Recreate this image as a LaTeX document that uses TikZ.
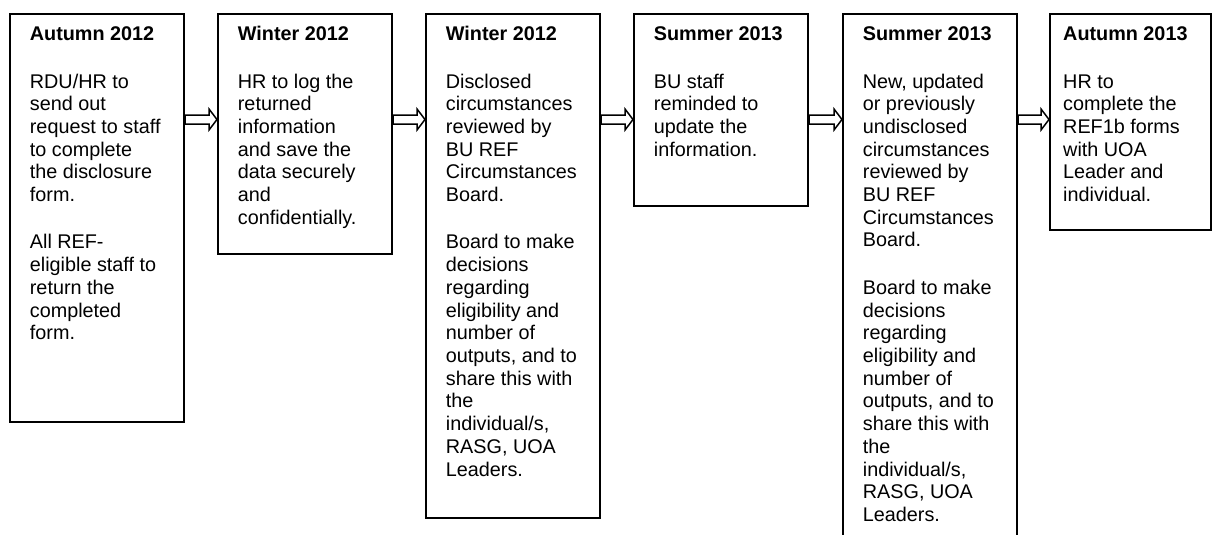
\documentclass[tikz,border=0pt]{standalone}
\usepackage{fontspec}
\setmainfont{Liberation Sans}
\usetikzlibrary{calc}
\tikzset{
  stagebox/.style={draw=black, line width=2pt, rectangle, inner sep=0pt},
  blockarrow/.style={draw=black, line width=1.5pt, fill=white, line join=miter},
  stagetext/.style={anchor=base west, inner sep=0pt}
}
\newcommand{\stagetxt}[1]{\parbox[t]{150pt}{\fontsize{19.8pt}{22.7pt}\selectfont\raggedright\setlength{\parskip}{24.7pt}#1}}
\newcommand{\flowarrow}[2]{%
  \draw[blockarrow] let \p1=(#1.east |- ay), \p2=(#2.west |- ay) in
    (\x1,\y1+4.5pt) -- (\x2-8pt,\y1+4.5pt) -- (\x2-8pt,\y1+10.5pt) -- (\x2,\y1)
    -- (\x2-8pt,\y1-10.5pt) -- (\x2-8pt,\y1-4.5pt) -- (\x1,\y1-4.5pt) -- cycle;}
\begin{document}
\begin{tikzpicture}[x=1pt,y=-1pt]
\useasboundingbox (0,0) rectangle (1212,535);
\clip (0,0) rectangle (1212,535);
\coordinate (ay) at (0,119.5);
% boxes
\node[stagebox, minimum width=174pt, minimum height=408pt] (b1) at (97,218) {};
\node[stagebox, minimum width=174pt, minimum height=240pt] (b2) at (305,134) {};
\node[stagebox, minimum width=174pt, minimum height=504pt] (b3) at (513,266) {};
\node[stagebox, minimum width=174pt, minimum height=192pt] (b4) at (721,110) {};
\node[stagebox, minimum width=174pt, minimum height=546pt] (b5) at (930,287) {};
\node[stagebox, minimum width=161pt, minimum height=216pt] (b6) at (1130.5,122) {};
% texts
\node[stagetext] (t1) at ($(b1.north west)+(20.7,27.7)$) {\stagetxt{%
\textbf{Autumn 2012}\par
RDU/HR to\\ send out\\ request to staff\\ to complete\\ the disclosure\\ form.\par
All REF-\\ eligible staff to\\ return the\\ completed\\ form.}};
\node[stagetext] (t2) at ($(b2.north west)+(20.7,27.7)$) {\stagetxt{%
\textbf{Winter 2012}\par
HR to log the\\ returned\\ information\\ and save the\\ data securely\\ and\\ confidentially.}};
\node[stagetext] (t3) at ($(b3.north west)+(20.7,27.7)$) {\stagetxt{%
\textbf{Winter 2012}\par
Disclosed\\ circumstances\\ reviewed by\\ BU REF\\ Circumstances\\ Board.\par
Board to make\\ decisions\\ regarding\\ eligibility and\\ number of\\ outputs, and to\\ share this with\\ the\\ individual/s,\\ RASG, UOA\\ Leaders.}};
\node[stagetext] (t4) at ($(b4.north west)+(20.7,27.7)$) {\stagetxt{%
\textbf{Summer 2013}\par
BU staff\\ reminded to\\ update the\\ information.}};
\node[stagetext] (t5) at ($(b5.north west)+(20.7,27.7)$) {\stagetxt{%
\textbf{Summer 2013}\par
New, updated\\ or previously\\ undisclosed\\ circumstances\\ reviewed by\\ BU REF\\ Circumstances\\ Board.\par
Board to make\\ decisions\\ regarding\\ eligibility and\\ number of\\ outputs, and to\\ share this with\\ the\\ individual/s,\\ RASG, UOA\\ Leaders.}};
\node[stagetext] (t6) at ($(b6.north west)+(14,27.7)$) {\stagetxt{%
\textbf{Autumn 2013}\par
HR to\\ complete the\\ REF1b forms\\ with UOA\\ Leader and\\ individual.}};
% arrows
\flowarrow{b1}{b2}
\flowarrow{b2}{b3}
\flowarrow{b3}{b4}
\flowarrow{b4}{b5}
\flowarrow{b5}{b6}
\end{tikzpicture}
\end{document}
